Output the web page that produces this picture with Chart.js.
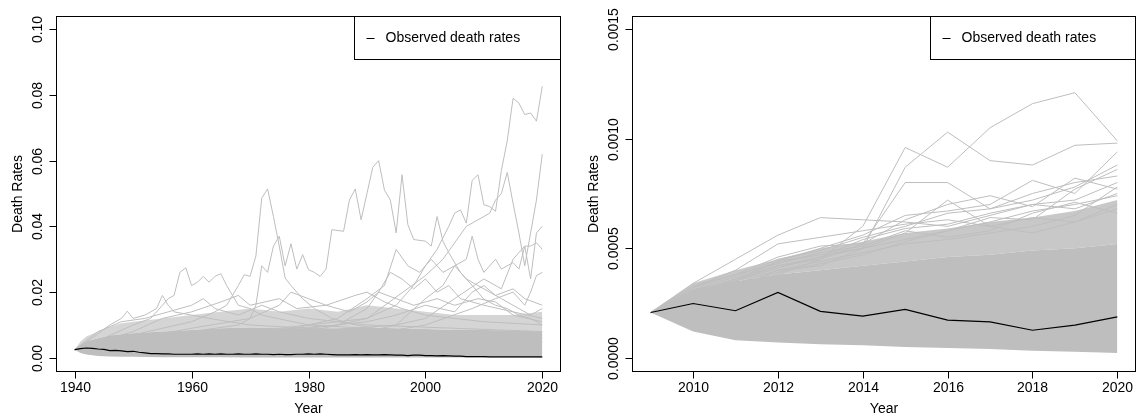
<!DOCTYPE html>
<html>
<head>
<meta charset="utf-8">
<script src="https://cdn.jsdelivr.net/npm/chart.js@4.4.1/dist/chart.umd.min.js"></script>
<style>
    html, body { margin: 0; padding: 0; background: #fff; }
    #wrap { position: relative; width: 1137px; height: 420px; }
    canvas { position: absolute; top: 0; }
    #links { left: 0; }
    #rechts { left: 568px; }
</style>
</head>
<body>
<div id="wrap">
    <canvas id="links" width="568" height="420"></canvas>
    <canvas id="rechts" width="569" height="420"></canvas>
</div>
<script>
// ---- linkes Panel: 1940-2020 ----
const jahreLinks = [];
for (let j = 1940; j <= 2020; j++) jahreLinks.push(j);

const beobachtetLinks = [
    0.0025, 0.0028, 0.0030, 0.0029, 0.0027, 0.0026, 0.0022, 0.0023, 0.0021, 0.0019,
    0.0020, 0.0017, 0.0015, 0.0013, 0.0013, 0.0012, 0.0012, 0.0011, 0.0011, 0.0011,
    0.0011, 0.0012, 0.0011, 0.0012, 0.0011, 0.0012, 0.0011, 0.0011, 0.0012, 0.0011,
    0.0011, 0.0012, 0.0011, 0.0011, 0.0010, 0.0011, 0.0010, 0.0010, 0.0011, 0.0011,
    0.0012, 0.0011, 0.0012, 0.0011, 0.0010, 0.0009, 0.0009, 0.0009, 0.0010, 0.0009,
    0.0010, 0.0009, 0.0009, 0.0010, 0.0009, 0.0008, 0.0008, 0.0007, 0.0008, 0.0008,
    0.0007, 0.0007, 0.0006, 0.0007, 0.0006, 0.0005, 0.0005, 0.0004, 0.0004, 0.0004,
    0.0004, 0.0003, 0.0003, 0.0003, 0.0003, 0.0003, 0.0003, 0.0003, 0.0003, 0.0003,
    0.0003,
];

// Simulationen: dichter Kern und lockerer Rand als Bänder
const bandJahreLinks = [1940, 1941, 1942, 1944, 1946, 1948, 1950, 1955, 1960, 1965, 1970,
    1975, 1980, 1985, 1990, 1995, 2000, 2005, 2010, 2015, 2020];
const untenLinks = [0.0025, 0.0015, 0.0010, 0.0006, 0.0004, 0.0003, 0.0003, 0.0002, 0.0002, 0.0002, 0.0001,
    0.0001, 0.0001, 0.0001, 0.0001, 0.0001, 0.0001, 0.0001, 0.0001, 0.0001, 0.0001];
const kernLinks = [0.0025, 0.0040, 0.0050, 0.0060, 0.0068, 0.0072, 0.0075, 0.0080, 0.0085, 0.0090, 0.0092,
    0.0090, 0.0090, 0.0090, 0.0092, 0.0090, 0.0088, 0.0085, 0.0085, 0.0083, 0.0080];
const randLinks = [0.0025, 0.0050, 0.0065, 0.0080, 0.0095, 0.0105, 0.0110, 0.0120, 0.0130, 0.0140, 0.0150,
    0.0140, 0.0150, 0.0140, 0.0160, 0.0150, 0.0140, 0.0130, 0.0130, 0.0130, 0.0140];

// einzelne Ausreißer-Pfade [Jahr, Rate]
const pfadA = [[1940, 0.0025], [1945, 0.006], [1950, 0.007], [1955, 0.009], [1960, 0.011], [1964, 0.014],
    [1966, 0.016], [1968, 0.022], [1969, 0.0253], [1970, 0.0248], [1971, 0.031], [1972, 0.0486],
    [1973, 0.0514], [1974, 0.043], [1975, 0.034], [1976, 0.0243], [1977, 0.022], [1979, 0.018],
    [1981, 0.015], [1984, 0.012], [1988, 0.010], [1995, 0.008], [2005, 0.007], [2020, 0.005]];
const pfadB = [[1940, 0.0025], [1950, 0.006], [1960, 0.008], [1968, 0.010], [1970, 0.012], [1971, 0.016],
    [1972, 0.028], [1973, 0.026], [1974, 0.034], [1975, 0.037], [1976, 0.028], [1977, 0.0347],
    [1978, 0.027], [1979, 0.0314], [1980, 0.0268], [1981, 0.026], [1982, 0.0248], [1983, 0.027],
    [1984, 0.039], [1986, 0.0385], [1987, 0.048], [1988, 0.0514], [1989, 0.042], [1990, 0.050],
    [1991, 0.058], [1992, 0.060], [1993, 0.051], [1994, 0.048], [1995, 0.038], [1996, 0.0557],
    [1997, 0.0405], [1998, 0.036], [2000, 0.0355], [2001, 0.034], [2002, 0.043], [2003, 0.0355],
    [2004, 0.032], [2006, 0.026], [2007, 0.024], [2009, 0.020], [2010, 0.0178], [2012, 0.016],
    [2014, 0.015], [2016, 0.013], [2018, 0.012], [2020, 0.010]];
const pfadD = [[1940, 0.0025], [1960, 0.007], [1980, 0.008], [1990, 0.012], [1995, 0.016], [1998, 0.022],
    [2000, 0.028], [2002, 0.033], [2004, 0.040], [2005, 0.044], [2006, 0.045], [2007, 0.041],
    [2008, 0.054], [2009, 0.0557], [2010, 0.0466], [2011, 0.046], [2012, 0.0446], [2013, 0.057],
    [2014, 0.066], [2015, 0.079], [2016, 0.0775], [2017, 0.074], [2018, 0.0745], [2019, 0.072],
    [2020, 0.0826]];
const pfadE = [[1940, 0.0025], [1970, 0.008], [1990, 0.012], [2000, 0.025], [2003, 0.030], [2005, 0.035],
    [2007, 0.040], [2009, 0.042], [2011, 0.044], [2012, 0.048], [2013, 0.050], [2014, 0.0564],
    [2015, 0.047], [2016, 0.038], [2017, 0.028], [2018, 0.038], [2019, 0.048], [2020, 0.062]];
const pfadF = [[1940, 0.0025], [1980, 0.008], [1995, 0.010], [2000, 0.018], [2003, 0.022], [2005, 0.028],
    [2007, 0.030], [2008, 0.037], [2009, 0.030], [2010, 0.026], [2012, 0.030], [2013, 0.027],
    [2015, 0.029], [2016, 0.027], [2017, 0.034], [2018, 0.024], [2019, 0.038], [2020, 0.040]];
const pfadG = [[1940, 0.0025], [1990, 0.008], [2000, 0.012], [2005, 0.018], [2010, 0.024], [2013, 0.021],
    [2015, 0.030], [2016, 0.032], [2017, 0.034], [2018, 0.034], [2019, 0.035], [2020, 0.033]];
const pfadH = [[1940, 0.0025], [1990, 0.007], [2000, 0.010], [2008, 0.015], [2012, 0.018], [2015, 0.020],
    [2017, 0.016], [2018, 0.020], [2019, 0.025], [2020, 0.026]];
const pfadI = [[1940, 0.0025], [1975, 0.008], [1985, 0.012], [1990, 0.018], [1993, 0.022], [1995, 0.033],
    [1997, 0.028], [1999, 0.026], [2001, 0.030], [2003, 0.026], [2005, 0.028], [2007, 0.024],
    [2009, 0.022], [2011, 0.020], [2013, 0.018], [2015, 0.016], [2018, 0.013], [2020, 0.015]];
const pfadJ = [[1940, 0.0025], [1945, 0.006], [1950, 0.010], [1953, 0.012], [1955, 0.016], [1956, 0.018],
    [1957, 0.019], [1958, 0.026], [1959, 0.0274], [1960, 0.022], [1961, 0.023], [1962, 0.0248],
    [1963, 0.023], [1964, 0.0248], [1965, 0.0256], [1966, 0.022], [1967, 0.019], [1968, 0.016],
    [1970, 0.015], [1972, 0.013], [1980, 0.010], [2000, 0.008], [2020, 0.007]];
const pfadK = [[1940, 0.0025], [1970, 0.008], [1985, 0.010], [1990, 0.015], [1992, 0.020], [1994, 0.026],
    [1996, 0.024], [1998, 0.021], [2000, 0.024], [2002, 0.020], [2004, 0.022], [2006, 0.018],
    [2010, 0.016], [2015, 0.014], [2020, 0.012]];
const pfadL = [[1940, 0.0025], [1943, 0.006], [1946, 0.010], [1948, 0.012], [1949, 0.0142], [1950, 0.012],
    [1952, 0.013], [1954, 0.015], [1955, 0.019], [1956, 0.016], [1957, 0.014], [1960, 0.013],
    [1963, 0.012], [1970, 0.010], [1990, 0.008], [2020, 0.006]];
const pfadM1 = [[1940, 0.0025], [1950, 0.008], [1955, 0.012], [1960, 0.014], [1965, 0.017], [1968, 0.019],
    [1970, 0.016], [1975, 0.018], [1978, 0.015], [1983, 0.016], [1988, 0.019], [1990, 0.020],
    [1993, 0.017], [1996, 0.015], [2000, 0.013], [2005, 0.012], [2010, 0.011], [2020, 0.010]];
const pfadM2 = [[1940, 0.0025], [1960, 0.009], [1970, 0.012], [1975, 0.016], [1977, 0.020], [1980, 0.018],
    [1983, 0.016], [1987, 0.014], [1990, 0.017], [1992, 0.020], [1995, 0.018], [1998, 0.016],
    [2002, 0.018], [2005, 0.016], [2009, 0.018], [2012, 0.017], [2015, 0.013], [2020, 0.011]];
const pfadM3 = [[1940, 0.0025], [1980, 0.009], [1990, 0.011], [1995, 0.013], [2000, 0.016], [2005, 0.014],
    [2008, 0.020], [2010, 0.022], [2012, 0.019], [2015, 0.021], [2017, 0.018], [2020, 0.016]];
const pfadM4 = [[1940, 0.0025], [1944, 0.008], [1948, 0.011], [1952, 0.012], [1956, 0.014], [1960, 0.016],
    [1962, 0.018], [1964, 0.015], [1968, 0.013], [1972, 0.016], [1975, 0.014], [1980, 0.012],
    [1990, 0.010], [2020, 0.008]];

const xTicksLinks = [1940, 1960, 1980, 2000, 2020];
const yTicksLinks = [0, 0.02, 0.04, 0.06, 0.08, 0.10];
const yLabelsLinks = ["0.00", "0.02", "0.04", "0.06", "0.08", "0.10"];

// ---- rechtes Panel: 2009-2020 ----
const jahreRechts = [2009, 2010, 2011, 2012, 2013, 2014, 2015, 2016, 2017, 2018, 2019, 2020];
const beobachtetRechts = [0.000207, 0.000248, 0.000215, 0.000299, 0.000212, 0.000190,
    0.000221, 0.000172, 0.000164, 0.000126, 0.000149, 0.000187];
const untenRechts = [0.000207, 0.00012, 0.00008, 0.00007, 0.000062, 0.000058,
    0.00005, 0.000045, 0.00004, 0.000032, 0.000028, 0.000022];
const kernRechts = [0.000207, 0.00031, 0.00035, 0.00038, 0.00040, 0.00042,
    0.00044, 0.00046, 0.00047, 0.00049, 0.00050, 0.00052];
const randRechts = [0.000207, 0.00034, 0.00040, 0.00045, 0.00050, 0.00053,
    0.00057, 0.00059, 0.00062, 0.00064, 0.00067, 0.00072];

const simR1 = [0.000207, 0.00030, 0.00033, 0.00038, 0.00045, 0.00060, 0.00096, 0.00087, 0.00105, 0.00116, 0.00121, 0.00099];
const simR2 = [0.000207, 0.00029, 0.00032, 0.00040, 0.00042, 0.00050, 0.00087, 0.00103, 0.00090, 0.00088, 0.00097, 0.00098];
const simR3 = [0.000207, 0.00031, 0.00035, 0.00042, 0.00045, 0.00052, 0.00080, 0.00080, 0.00068, 0.00075, 0.00080, 0.00083];
const simR4 = [0.000207, 0.00034, 0.00045, 0.00056, 0.00064, 0.00063, 0.00062, 0.00060, 0.00065, 0.00070, 0.00068, 0.00075];
const simR5 = [0.000207, 0.00030, 0.00036, 0.00044, 0.00050, 0.00056, 0.00065, 0.00067, 0.00070, 0.00081, 0.00075, 0.00094];
const simR6 = [0.000207, 0.00031, 0.00035, 0.00044, 0.00047, 0.00050, 0.00054, 0.00058, 0.00064, 0.00063, 0.00077, 0.00086];
const simR7 = [0.000207, 0.00028, 0.00034, 0.00040, 0.00044, 0.00048, 0.00052, 0.00054, 0.00057, 0.00060, 0.00065, 0.00078];
const simR8 = [0.000207, 0.00030, 0.00036, 0.00042, 0.00046, 0.00050, 0.00057, 0.00072, 0.00060, 0.00057, 0.00062, 0.00070];
const simR9 = [0.000207, 0.00033, 0.00038, 0.00043, 0.00048, 0.00051, 0.00058, 0.00055, 0.00058, 0.00066, 0.00071, 0.00066];
const simR10 = [0.000207, 0.00032, 0.00040, 0.00052, 0.00055, 0.00058, 0.00061, 0.00063, 0.00060, 0.00064, 0.00062, 0.00068];
const simR11 = [0.000207, 0.00031, 0.00037, 0.00045, 0.00049, 0.00055, 0.00060, 0.00066, 0.00068, 0.00072, 0.00078, 0.00088];
const simR12 = [0.000207, 0.00030, 0.00035, 0.00041, 0.00046, 0.00054, 0.00059, 0.00061, 0.00066, 0.00070, 0.00072, 0.00080];
const simR13 = [0.000207, 0.00032, 0.00038, 0.00046, 0.00051, 0.00052, 0.00063, 0.00070, 0.00074, 0.00069, 0.00082, 0.00077];
const simR14 = [0.000207, 0.00029, 0.00033, 0.00039, 0.00043, 0.00047, 0.00053, 0.00058, 0.00062, 0.00067, 0.00070, 0.00074];

const xTicksRechts = [2010, 2012, 2014, 2016, 2018, 2020];
const yTicksRechts = [0, 0.0005, 0.0010, 0.0015];
const yLabelsRechts = ["0.0000", "0.0005", "0.0010", "0.0015"];

const GRAU = "#BEBEBE";
const SCHRIFT = "14px 'Liberation Sans', Arial, Helvetica, sans-serif";

function paare(jahre, werte) {
    return werte.map((w, i) => ({ x: jahre[i], y: w }));
}
function pfad(punkte) {
    return punkte.map(p => ({ x: p[0], y: p[1] }));
}
function grauLinie(daten) {
    return { data: daten, borderColor: GRAU, borderWidth: 1, pointRadius: 0, tension: 0, fill: false, order: 1 };
}
function baender(jahre, unten, kern, rand, randFarbe) {
    return [
        { data: paare(jahre, unten), borderColor: "rgba(0,0,0,0)", borderWidth: 0, pointRadius: 0, fill: false, order: 3 },
        { data: paare(jahre, kern), borderColor: "rgba(0,0,0,0)", borderWidth: 0, pointRadius: 0, fill: 0, backgroundColor: GRAU, order: 3 },
        { data: paare(jahre, rand), borderColor: "rgba(0,0,0,0)", borderWidth: 0, pointRadius: 0, fill: 1, backgroundColor: randFarbe, order: 3 },
    ];
}

// Rahmen, Achsen, Beschriftung und Legende im Stil von R
const rahmen = {
    id: "rahmen",
    afterDraw(chart, args, opts) {
        const ctx = chart.ctx;
        const a = chart.chartArea;
        const sx = chart.scales.x;
        const sy = chart.scales.y;
        const strich = (x1, y1, x2, y2) => {
            ctx.beginPath(); ctx.moveTo(x1, y1); ctx.lineTo(x2, y2); ctx.stroke();
        };
        ctx.save();
        ctx.strokeStyle = "#000";
        ctx.lineWidth = 1;
        const l = Math.round(a.left) + 0.5, t = Math.round(a.top) + 0.5;
        const r = Math.round(a.right) - 0.5, b = Math.round(a.bottom) + 0.5;
        ctx.strokeRect(l, t, r - l, b - t);

        ctx.font = SCHRIFT;
        ctx.fillStyle = "#000";
        ctx.textAlign = "center";
        ctx.textBaseline = "middle";
        opts.xTicks.forEach(v => {
            const px = Math.round(sx.getPixelForValue(v)) + 0.5;
            strich(px, b, px, b + 7);
            ctx.fillText(String(v), px, b + 17);
        });
        opts.yTicks.forEach((v, i) => {
            const py = Math.round(sy.getPixelForValue(v)) + 0.5;
            strich(l - 7, py, l, py);
            ctx.save();
            ctx.translate(l - 18, py);
            ctx.rotate(-Math.PI / 2);
            ctx.fillText(opts.yLabels[i], 0, 0);
            ctx.restore();
        });
        ctx.fillText("Year", (l + r) / 2, b + 38);
        ctx.save();
        ctx.translate(l - 38, (t + b) / 2);
        ctx.rotate(-Math.PI / 2);
        ctx.fillText("Death Rates", 0, 0);
        ctx.restore();

        // Legende oben rechts
        const lx = Math.round(opts.legendeLinks) + 0.5;
        const lb = t + 43;
        ctx.fillStyle = "#fff";
        ctx.fillRect(lx, t, r - lx, lb - t);
        ctx.strokeRect(lx, t, r - lx, lb - t);
        strich(lx + 12, t + 22, lx + 20, t + 22);
        ctx.fillStyle = "#000";
        ctx.textAlign = "left";
        ctx.fillText("Observed death rates", lx + 31, t + 22);
        ctx.restore();
    },
};

function optionen(xmin, xmax, ymin, ymax, pad, extra) {
    return {
        responsive: false,
        animation: false,
        layout: { padding: pad },
        plugins: { legend: { display: false }, tooltip: { enabled: false }, rahmen: extra },
        scales: {
            x: { type: "linear", display: false, min: xmin, max: xmax },
            y: { type: "linear", display: false, min: ymin, max: ymax },
        },
    };
}

const pfadeLinks = [pfadA, pfadB, pfadD, pfadE, pfadF, pfadG, pfadH, pfadI, pfadJ, pfadK, pfadL,
    pfadM1, pfadM2, pfadM3, pfadM4];
const simRechts = [simR1, simR2, simR3, simR4, simR5, simR6, simR7, simR8, simR9, simR10,
    simR11, simR12, simR13, simR14];

new Chart(document.getElementById("links"), {
    type: "line",
    data: {
        datasets: [
            ...baender(bandJahreLinks, untenLinks, kernLinks, randLinks, "rgba(190,190,190,0.65)"),
            ...pfadeLinks.map(p => grauLinie(pfad(p))),
            { data: paare(jahreLinks, beobachtetLinks), borderColor: "#000", borderWidth: 1.2, pointRadius: 0, tension: 0, fill: false, order: 0 },
        ],
    },
    options: optionen(1936.8, 2023.2, -0.004, 0.104,
        { left: 56, right: 7, top: 16, bottom: 49 },
        { xTicks: xTicksLinks, yTicks: yTicksLinks, yLabels: yLabelsLinks, legendeLinks: 354 }),
    plugins: [rahmen],
});

new Chart(document.getElementById("rechts"), {
    type: "line",
    data: {
        datasets: [
            ...baender(jahreRechts, untenRechts, kernRechts, randRechts, "rgba(190,190,190,0.85)"),
            ...simRechts.map(w => grauLinie(paare(jahreRechts, w))),
            { data: paare(jahreRechts, beobachtetRechts), borderColor: "#000", borderWidth: 1.2, pointRadius: 0, tension: 0, fill: false, order: 0 },
        ],
    },
    options: optionen(2008.56, 2020.44, -0.00006, 0.00156,
        { left: 64, right: 1, top: 16, bottom: 49 },
        { xTicks: xTicksRechts, yTicks: yTicksRechts, yLabels: yLabelsRechts, legendeLinks: 362 }),
    plugins: [rahmen],
});
</script>
</body>
</html>
